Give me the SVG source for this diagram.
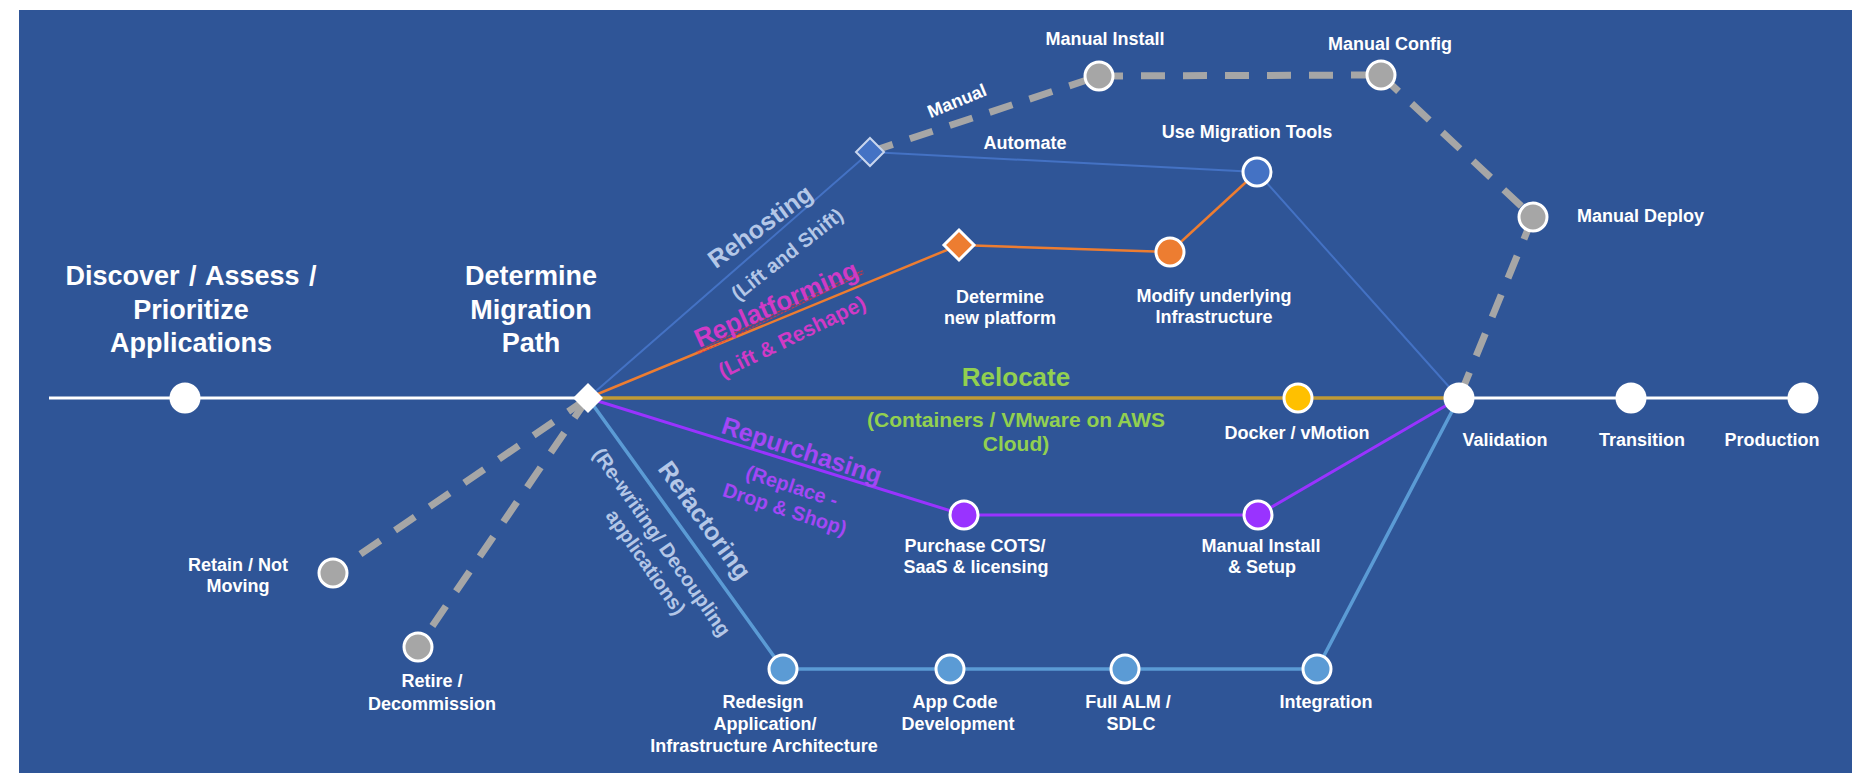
<svg xmlns="http://www.w3.org/2000/svg" width="1852" height="773" viewBox="0 0 1852 773">
<defs>
<style>
.t{font-family:"Liberation Sans",Arial,sans-serif;font-weight:bold;fill:#fff}
.h{font-size:27px}
.n{font-size:18px}
.m{text-anchor:middle}
.lb{fill:#B4C7E7}
.mag{fill:#D03AC6}
.pur{fill:#A347F5}
.grn{fill:#92D050}
.grey{fill:#A6A6A6;stroke:#fff;stroke-width:3}
.dash{stroke:#A6A6A6;stroke-width:7;stroke-dasharray:24 18;fill:none}
.main{fill:#fff}
</style>
<pattern id="squig" width="4" height="4" patternUnits="userSpaceOnUse"><path d="M0,3 L2,1 L4,3" fill="none" stroke="#E8303A" stroke-width="1.1"/></pattern>
</defs>
<rect width="1852" height="773" fill="#fff"/>
<rect x="19" y="10" width="1833" height="763" fill="#2F5597"/>

<g id="connectors" fill="none">
  <line x1="49" y1="398" x2="588" y2="398" stroke="#fff" stroke-width="3"/>
  <line x1="1459" y1="398" x2="1803" y2="398" stroke="#fff" stroke-width="3"/>
  <line class="dash" x1="588" y1="398" x2="333" y2="573"/>
  <line class="dash" x1="588" y1="398" x2="418" y2="647"/>
  <line class="dash" x1="870" y1="152" x2="1099" y2="76"/>
  <line class="dash" x1="1099" y1="76" x2="1381" y2="75"/>
  <line class="dash" x1="1381" y1="75" x2="1533" y2="217"/>
  <line class="dash" x1="1533" y1="217" x2="1459" y2="398"/>
  <line x1="588" y1="398" x2="1459" y2="398" stroke="#C09A35" stroke-width="3.5"/>
  <polyline points="588,398 870,152 1257,172 1459,398" stroke="#4472C4" stroke-width="2"/>
  <polyline points="588,398 959,245 1170,252 1257,172" stroke="#ED7D31" stroke-width="2.5"/>
  <polyline points="588,398 964,515 1258,515 1459,398" stroke="#9933FF" stroke-width="3"/>
  <polyline points="588,398 783,669 1317,669 1459,398" stroke="#5B9BD5" stroke-width="3.5"/>
  <text class="t n m" x="1025" y="149">Automate</text>
  <text class="t n m" transform="translate(957,101) rotate(-22)" y="6">Manual</text>
  <g transform="translate(760,226) rotate(-36)"><text class="t lb m" style="font-size:25px" y="9">Rehosting</text></g>
  <g transform="translate(787,254) rotate(-38)"><text class="t lb m" style="font-size:20px" y="7">(Lift and Shift)</text></g>
  <g transform="translate(697,353) rotate(-26)"><rect x="0" y="-2" width="185" height="4" fill="url(#squig)"/></g>
  <g transform="translate(776,304) rotate(-24)"><text class="t mag m" style="font-size:26px" y="9">Replatforming</text></g>
  <g transform="translate(792,337) rotate(-26)"><text class="t mag m" style="font-size:21px" y="7">(Lift &amp; Reshape)</text></g>
  <text class="t grn m" style="font-size:26px" x="1016" y="386">Relocate</text>
  <text class="t grn m" style="font-size:21px" x="1016" y="427">(Containers / VMware on AWS</text>
  <text class="t grn m" style="font-size:21px" x="1016" y="451">Cloud)</text>
  <g transform="translate(802,450) rotate(18)"><text class="t pur m" style="font-size:25px" y="9">Repurchasing</text></g>
  <g transform="translate(792,486) rotate(18)"><text class="t pur m" style="font-size:20px" y="7">(Replace -</text></g>
  <g transform="translate(785,509) rotate(18)"><text class="t pur m" style="font-size:20px" y="7">Drop &amp; Shop)</text></g>
  <g transform="translate(705,520) rotate(54)"><text class="t lb m" style="font-size:25px" y="9">Refactoring</text></g>
  <g transform="translate(662,542) rotate(55)"><text class="t lb m" style="font-size:20px" y="7">(Re-writing/ Decoupling</text></g>
  <g transform="translate(646,562) rotate(55)"><text class="t lb m" style="font-size:20px" y="7">applications)</text></g>
</g>

<g id="discover">
  <circle class="main" cx="185" cy="398" r="15.5"/>
  <text class="t h m" x="191" y="285" style="word-spacing:2px">Discover / Assess /</text>
  <text class="t h m" x="191" y="318.5">Prioritize</text>
  <text class="t h m" x="191" y="352">Applications</text>
</g>
<g id="determine">
  <polygon class="main" points="588,383 603,398 588,413 573,398"/>
  <text class="t h m" x="531" y="285">Determine</text>
  <text class="t h m" x="531" y="318.5">Migration</text>
  <text class="t h m" x="531" y="352">Path</text>
</g>
<g id="retain">
  <circle class="grey" cx="333" cy="573" r="14"/>
  <text class="t n m" x="238" y="571">Retain / Not</text>
  <text class="t n m" x="238" y="592">Moving</text>
</g>
<g id="retire">
  <circle class="grey" cx="418" cy="647" r="14"/>
  <text class="t n m" x="432" y="687">Retire /</text>
  <text class="t n m" x="432" y="710">Decommission</text>
</g>
<g id="rehost-choice">
  <polygon points="870,138 884,152 870,166 856,152" fill="#4472C4" stroke="#C9D6EE" stroke-width="2"/>
</g>
<g id="manual-install">
  <circle class="grey" cx="1099" cy="76" r="14"/>
  <text class="t n m" x="1105" y="45">Manual Install</text>
</g>
<g id="manual-config">
  <circle class="grey" cx="1381" cy="75" r="14"/>
  <text class="t n m" x="1390" y="50">Manual Config</text>
</g>
<g id="manual-deploy">
  <circle class="grey" cx="1533" cy="217" r="14"/>
  <text class="t n" x="1577" y="222">Manual Deploy</text>
</g>
<g id="use-migration-tools">
  <circle cx="1257" cy="172" r="14" fill="#4472C4" stroke="#fff" stroke-width="3"/>
  <text class="t n m" x="1247" y="138">Use Migration Tools</text>
</g>
<g id="determine-platform">
  <polygon points="959,230 974,245 959,260 944,245" fill="#ED7D31" stroke="#fff" stroke-width="3"/>
  <text class="t n m" x="1000" y="303">Determine</text>
  <text class="t n m" x="1000" y="324">new platform</text>
</g>
<g id="modify-infra">
  <circle cx="1170" cy="252" r="14" fill="#ED7D31" stroke="#fff" stroke-width="3"/>
  <text class="t n m" x="1214" y="302">Modify underlying</text>
  <text class="t n m" x="1214" y="323">Infrastructure</text>
</g>
<g id="docker">
  <circle cx="1298" cy="398" r="14" fill="#FFC000" stroke="#fff" stroke-width="3"/>
  <text class="t n m" x="1297" y="439">Docker / vMotion</text>
</g>
<g id="purchase-cots">
  <circle cx="964" cy="515" r="14" fill="#9933FF" stroke="#fff" stroke-width="3"/>
  <text class="t n m" x="975" y="552">Purchase COTS/</text>
  <text class="t n m" x="976" y="573">SaaS &amp; licensing</text>
</g>
<g id="manual-install-setup">
  <circle cx="1258" cy="515" r="14" fill="#9933FF" stroke="#fff" stroke-width="3"/>
  <text class="t n m" x="1261" y="552">Manual Install</text>
  <text class="t n m" x="1262" y="573">&amp; Setup</text>
</g>
<g id="redesign">
  <circle cx="783" cy="669" r="14" fill="#5B9BD5" stroke="#fff" stroke-width="3"/>
  <text class="t n m" x="763" y="708">Redesign</text>
  <text class="t n m" x="765" y="730">Application/</text>
  <text class="t n m" x="764" y="752">Infrastructure Architecture</text>
</g>
<g id="app-code">
  <circle cx="950" cy="669" r="14" fill="#5B9BD5" stroke="#fff" stroke-width="3"/>
  <text class="t n m" x="955" y="708">App Code</text>
  <text class="t n m" x="958" y="730">Development</text>
</g>
<g id="full-alm">
  <circle cx="1125" cy="669" r="14" fill="#5B9BD5" stroke="#fff" stroke-width="3"/>
  <text class="t n m" x="1128" y="708">Full ALM /</text>
  <text class="t n m" x="1131" y="730">SDLC</text>
</g>
<g id="integration">
  <circle cx="1317" cy="669" r="14" fill="#5B9BD5" stroke="#fff" stroke-width="3"/>
  <text class="t n m" x="1326" y="708">Integration</text>
</g>
<g id="validation">
  <circle class="main" cx="1459" cy="398" r="15.5"/>
  <text class="t n m" x="1505" y="446">Validation</text>
</g>
<g id="transition">
  <circle class="main" cx="1631" cy="398" r="15.5"/>
  <text class="t n m" x="1642" y="446">Transition</text>
</g>
<g id="production">
  <circle class="main" cx="1803" cy="398" r="15.5"/>
  <text class="t n m" x="1772" y="446">Production</text>
</g>
</svg>
